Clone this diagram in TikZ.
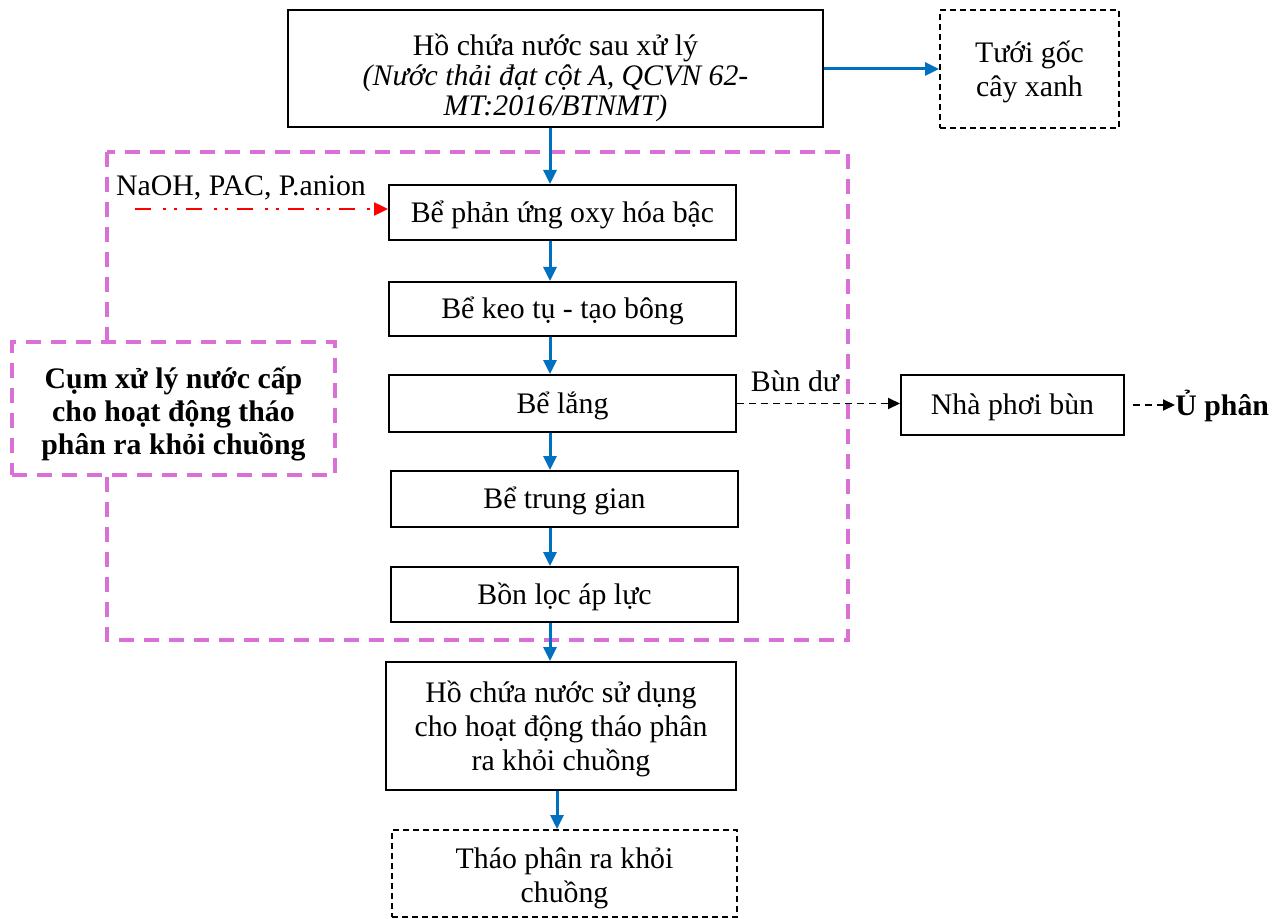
\documentclass[tikz,border=0pt]{standalone}
\usepackage{fontspec}
\setmainfont{Liberation Serif}
\usetikzlibrary{arrows.meta}
\definecolor{flowblue}{HTML}{0070C0}
\definecolor{zone}{HTML}{DA70D6}
\newcommand{\bodyfont}{\fontsize{14.9}{17}\selectfont}
% lower a (possibly multi-line) text block without changing its box size
\newcommand{\lowered}[2][2pt]{\raisebox{-#1}[\height][\depth]{\begin{tabular}{@{}c@{}}#2\end{tabular}}}
\tikzset{
  box/.style={draw=black, line width=1pt, fill=white, align=center, inner sep=2pt,
    font=\bodyfont},
  dbox/.style={box, dash pattern=on 3pt off 2pt},
  flow/.style={draw=flowblue, line width=1.5pt, -{Triangle[length=7pt,width=6.5pt]}},
  sludgeline/.style={draw=black, line width=0.9pt, dash pattern=on 3.5pt off 2.5pt,
    -{Triangle[length=6pt,width=5.5pt]}},
  chem/.style={draw=red, line width=1.2pt, dash pattern=on 8pt off 6pt on 1.5pt off 4pt on 1.5pt off 4.5pt,
    -{Triangle[length=7pt,width=6.5pt]}},
  zonebox/.style={draw=zone, line width=1.8pt, dash pattern=on 7.5pt off 5pt},
  lbl/.style={inner sep=0pt, font=\bodyfont},
}
\begin{document}
\begin{tikzpicture}[x=0.5pt,y=-0.5pt]
\useasboundingbox (0,0) rectangle (1283,919);

% treatment cluster outline
\draw[zonebox] (107,152) rectangle (848,640);

% main line
\node[draw=black, line width=1pt, fill=white, minimum width=267.5pt, minimum height=58.5pt] (top) at (555.5,68.5) {};
\node[lbl, align=center, font=\fontsize{14.9}{15}\selectfont] (toptext) at (555.5,78)
  {Hồ chứa nước sau xử lý\\ \textit{(Nước thải đạt cột A, QCVN 62-}\\ \textit{MT:2016/BTNMT)}};
\node[dbox, minimum width=89.5pt, minimum height=59pt] (irr) at (1029.5,69)
  {\lowered{Tưới gốc\\ cây xanh}};
\node[box, minimum width=173.5pt, minimum height=27.5pt] (r1) at (562.5,212.5) {\lowered[1.5pt]{Bể phản ứng oxy hóa bậc}};
\node[box, minimum width=173.5pt, minimum height=27pt] (r2) at (562.5,309) {\lowered[1.5pt]{Bể keo tụ - tạo bông}};
\node[box, minimum width=173.5pt, minimum height=28.5pt] (r3) at (562.5,403.5) {\lowered[1.5pt]{Bể lắng}};
\node[box, minimum width=173.5pt, minimum height=28pt] (r4) at (564.5,499) {\lowered[1.5pt]{Bể trung gian}};
\node[box, minimum width=173.5pt, minimum height=27.5pt] (r5) at (564.5,594.5) {\lowered[1.5pt]{Bồn lọc áp lực}};
\node[box, minimum width=175pt, minimum height=64pt] (use) at (561,726)
  {\lowered{Hồ chứa nước sử dụng\\ cho hoạt động tháo phân\\ ra khỏi chuồng}};
\node[dbox, minimum width=172.5pt, minimum height=43.5pt] (out) at (564.5,873.5)
  {\lowered[2.5pt]{Tháo phân ra khỏi\\ chuồng}};

% sludge branch
\node[box, minimum width=111.5pt, minimum height=30pt] (dry) at (1012.5,405) {\lowered[1.5pt]{Nhà phơi bùn}};
\node[lbl, anchor=west, font=\bodyfont\bfseries] (comp) at (1175,406) {Ủ phân};
\node[lbl] (sl) at (795,381) {Bùn dư};

% cluster label
\node[box, draw=zone, line width=1.8pt, dash pattern=on 7.5pt off 5pt,
  minimum width=161.5pt, minimum height=66.5pt, font=\fontsize{14.9}{16.5}\selectfont\bfseries]
  (cl) at (173.5,408.5) {\lowered[3pt]{Cụm xử lý nước cấp\\ cho hoạt động tháo\\ phân ra khỏi chuồng}};

% chemicals dosing
\node[lbl] (chemlbl) at (241,188) {NaOH, PAC, P.anion};
\coordinate (cs) at (135,209);
\draw[chem] (cs) -- (cs -| r1.west);

% flow arrows
\coordinate (ax) at (550,0);
\coordinate (bx) at (557,0);
\draw[flow] (top.east |- irr.west) -- (irr.west);
\draw[flow] (top.south -| ax) -- (r1.north -| ax);
\draw[flow] (r1.south -| ax) -- (r2.north -| ax);
\draw[flow] (r2.south -| ax) -- (r3.north -| ax);
\draw[flow] (r3.south -| ax) -- (r4.north -| ax);
\draw[flow] (r4.south -| ax) -- (r5.north -| ax);
\draw[flow] (r5.south -| ax) -- (use.north -| ax);
\draw[flow] (use.south -| bx) -- (out.north -| bx);

\draw[sludgeline] (r3.east) -- (r3.east -| dry.west);
\draw[sludgeline] ([xshift=4pt]dry.east) -- (comp.west |- dry.east);
\end{tikzpicture}
\end{document}
